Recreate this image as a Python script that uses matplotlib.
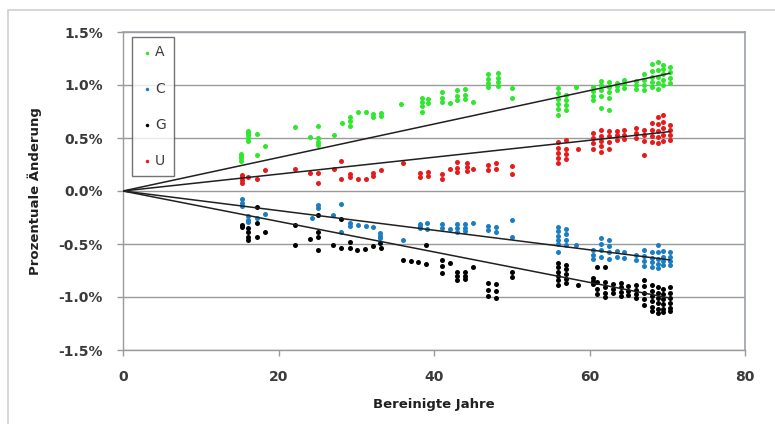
import matplotlib
matplotlib.use("Agg")
import matplotlib.pyplot as plt
import numpy as np
from matplotlib.patches import Rectangle

# ---------------- data (percent change vs adjusted years) ----------------
a_x = [15.2]*4 + [16.1]*5 + [17.2, 17.2, 18.3, 22.1, 24.1] + [25.1]*4 + [27.1, 28.2] + [29.2]*3 + \
      [30.2, 31.2, 32.2, 32.2, 33.2, 33.2, 35.8] + [38.5]*4 + [39.2]*2 + [41]*3 + [42] + [43]*3 + [44]*3 + [45] + \
      [47]*4 + [48.2]*4 + [50]*2 + [56]*6 + [57]*4 + [58.2] + [60.5]*4 + [61.5]*5 + [62.5]*5 + [63.5]*3 + \
      [64.5]*3 + [66]*3 + [67]*4 + [68]*5 + [68.8]*5 + [69.5]*5 + [70.3]*4
a_y = [0.28, 0.31, 0.33, 0.35, 0.47, 0.50, 0.53, 0.55, 0.57, 0.54, 0.34, 0.42, 0.60, 0.51,
       0.61, 0.50, 0.46, 0.43, 0.53, 0.64, 0.61, 0.66, 0.70, 0.75, 0.75, 0.70, 0.73, 0.71, 0.74, 0.82,
       0.80, 0.84, 0.88, 0.75, 0.83, 0.87, 0.88, 0.93, 0.84, 0.83, 0.86, 0.90, 0.95, 0.87, 0.91, 0.96, 0.84,
       0.98, 1.02, 1.06, 1.10, 0.99, 1.03, 1.07, 1.11, 0.97, 0.88,
       0.72, 0.77, 0.82, 0.87, 0.92, 0.97, 0.76, 0.81, 0.86, 0.91, 0.98,
       0.86, 0.90, 0.94, 0.98, 0.90, 0.95, 1.00, 1.04, 0.78, 0.88, 0.93, 0.98, 1.03, 0.76,
       0.95, 0.99, 1.02, 0.97, 1.01, 1.05, 0.96, 1.00, 1.04, 0.95, 1.00, 1.05, 1.10,
       0.98, 1.03, 1.08, 1.13, 1.20, 0.96, 1.02, 1.08, 1.14, 1.22, 1.00, 1.05, 1.10, 1.15, 1.19,
       1.02, 1.07, 1.12, 1.17]

u_x = [15.3]*4 + [16.1, 17.2, 18.3, 22.1, 24.1, 25.1, 25.1, 27.1, 28.1, 28.1] + [29.2]*2 + \
      [30.2, 31.2, 32.2, 32.2, 33.2, 36.0] + [38.2]*2 + [39.2]*2 + [41]*2 + [42] + [43]*3 + [44.2]*3 + [45] + \
      [47]*2 + [48]*2 + [50]*2 + [56]*5 + [57]*4 + [58.5] + [60.5]*4 + [61.5]*5 + [62.5]*4 + [63.5]*3 + \
      [64.5]*3 + [66]*3 + [67]*4 + [68]*4 + [68.8]*5 + [69.5]*5 + [70.3]*4
u_y = [0.08, 0.10, 0.13, 0.15, 0.13, 0.11, 0.20, 0.21, 0.17, 0.17, 0.08, 0.21, 0.28, 0.11,
       0.13, 0.16, 0.11, 0.11, 0.14, 0.17, 0.20, 0.26, 0.13, 0.17, 0.14, 0.18, 0.11, 0.16, 0.21,
       0.18, 0.22, 0.27, 0.19, 0.23, 0.26, 0.21, 0.20, 0.25, 0.21, 0.26, 0.24, 0.16,
       0.26, 0.31, 0.36, 0.41, 0.46, 0.30, 0.35, 0.40, 0.48, 0.40,
       0.40, 0.45, 0.50, 0.55, 0.37, 0.42, 0.47, 0.52, 0.58, 0.40, 0.46, 0.52, 0.57,
       0.48, 0.53, 0.57, 0.49, 0.53, 0.58, 0.50, 0.55, 0.59, 0.34, 0.47, 0.53, 0.58,
       0.46, 0.52, 0.58, 0.64, 0.45, 0.51, 0.57, 0.63, 0.70, 0.47, 0.53, 0.59, 0.65, 0.72,
       0.48, 0.53, 0.58, 0.62]

c_x = [15.3]*3 + [16.1]*3 + [17.2, 18.3, 24.3, 25.1, 25.1, 27.0, 28.0, 28.0] + [29.2]*2 + \
      [30.2, 31.3, 32.1] + [33.0]*3 + [36.0] + [38.2]*3 + [39.1]*2 + [41]*2 + [42] + [43]*3 + [44]*3 + [45] + \
      [47]*2 + [48]*2 + [50]*2 + [56]*6 + [57]*4 + [58.3] + [60.5]*3 + [61.5]*4 + [62.5]*4 + [63.5]*2 + \
      [64.5]*2 + [66]*2 + [67]*4 + [68]*4 + [68.8]*5 + [69.5]*4 + [70.3]*4
c_y = [-0.08, -0.11, -0.14, -0.24, -0.27, -0.29, -0.25, -0.22, -0.25, -0.13, -0.16, -0.23, -0.12, -0.39,
       -0.30, -0.33, -0.32, -0.33, -0.34, -0.40, -0.42, -0.44, -0.46, -0.31, -0.33, -0.35, -0.30, -0.36,
       -0.31, -0.35, -0.36, -0.31, -0.35, -0.39, -0.31, -0.35, -0.38, -0.30,
       -0.33, -0.37, -0.34, -0.39, -0.27, -0.43,
       -0.34, -0.38, -0.42, -0.46, -0.50, -0.58, -0.36, -0.41, -0.46, -0.51, -0.51,
       -0.56, -0.60, -0.64, -0.44, -0.50, -0.56, -0.62, -0.46, -0.52, -0.58, -0.64,
       -0.57, -0.62, -0.58, -0.63, -0.60, -0.65, -0.56, -0.61, -0.66, -0.71,
       -0.58, -0.63, -0.67, -0.72, -0.51, -0.58, -0.64, -0.69, -0.73, -0.57, -0.62, -0.66, -0.70,
       -0.58, -0.62, -0.66, -0.70]

g_x = [15.3]*2 + [16.1]*4 + [17.2]*3 + [18.3, 22.1, 22.1, 24.0] + [25.1]*4 + [27.0, 28.0, 28.0] + \
      [29.2]*2 + [30.1, 31.1, 32.2, 33.2, 33.0, 36.0, 37.0, 38.0] + [39.0]*2 + [41]*3 + [42] + [43]*3 + [44]*3 + \
      [45] + [47]*3 + [48]*3 + [50]*2 + [56]*6 + [57]*5 + [58.5] + [60.5]*3 + [61]*4 + [62]*5 + [63]*3 + \
      [64]*4 + [65]*3 + [66]*4 + [67]*5 + [68]*6 + [68.8]*6 + [69.5]*6 + [70.3]*6
g_y = [-0.32, -0.34, -0.35, -0.39, -0.43, -0.46, -0.15, -0.30, -0.43, -0.39, -0.32, -0.51, -0.45,
       -0.23, -0.39, -0.43, -0.56, -0.51, -0.26, -0.54, -0.48, -0.54, -0.56, -0.55, -0.52, -0.54, -0.49,
       -0.65, -0.66, -0.67, -0.51, -0.69, -0.65, -0.71, -0.77, -0.68, -0.76, -0.80, -0.84, -0.76, -0.80, -0.83,
       -0.72, -0.87, -0.93, -0.99, -0.88, -0.94, -1.01, -0.76, -0.81,
       -0.68, -0.72, -0.76, -0.80, -0.84, -0.89, -0.70, -0.74, -0.78, -0.83, -0.87, -0.89,
       -0.82, -0.85, -0.88, -0.72, -0.86, -0.92, -0.97, -0.72, -0.86, -0.91, -0.96, -1.00, -0.88, -0.92, -0.96,
       -0.87, -0.91, -0.95, -0.99, -0.90, -0.94, -0.98, -0.89, -0.93, -0.97, -1.01, -0.84, -0.90, -0.96, -1.02, -1.08,
       -0.89, -0.94, -0.99, -1.04, -1.09, -1.13, -0.91, -0.96, -1.01, -1.06, -1.11, -1.15,
       -0.92, -0.97, -1.02, -1.07, -1.11, -1.14, -0.91, -0.96, -1.01, -1.06, -1.10, -1.13]

# trend lines through the origin: value read at the last x (70.3 years)
trend_end_x = 70.3
trend_end_y = [1.11, -0.65, -1.01, 0.56]   # A, C, G, U

series_names = ["A", "C", "G", "U"]
series_colors = ["#2de82d", "#1b7ec4", "#000000", "#e81a1a"]
x_ticks = [0, 20, 40, 60, 80]
y_ticks = [-1.5, -1.0, -0.5, 0.0, 0.5, 1.0, 1.5]
x_label = "Bereinigte Jahre"
y_label = "Prozentuale Änderung"

# ---------------- figure ----------------
W, H = 775, 424
fig = plt.figure(figsize=(W/100, H/100), dpi=100)
fig.patch.set_facecolor("white")
fig.add_artist(Rectangle((8/W, -0.1), 1.2, (H-10)/H + 0.1, transform=fig.transFigure,
                         fill=False, edgecolor="#d0d0d0", linewidth=1.2))

ax = fig.add_axes([123/W, 1-350/H, (745-123)/W, (350-32)/H])
ax.set_xlim(0, 80)
ax.set_ylim(-1.5, 1.5)

font = ["DejaVu Sans"]
data = [(a_x, a_y), (c_x, c_y), (g_x, g_y), (u_x, u_y)]
for (xs, ys), name, col in zip(data, series_names, series_colors):
    ax.scatter(xs, ys, s=13, color=col, label=name, zorder=3, linewidths=0)
for yend in trend_end_y:
    ax.plot([0, trend_end_x], [0, yend], color="#202020", lw=1.1, zorder=4)

ax.set_yticks(y_ticks)
ax.set_yticklabels([f"{v:.1f}%" for v in y_ticks])
ax.set_xticks(x_ticks)
ax.grid(axis="y", color="#9a9a9a", lw=1.0)
ax.set_axisbelow(True)
for s in ["top", "right"]:
    ax.spines[s].set_color("#9aa0aa")
    ax.spines[s].set_linewidth(1.2)
for s in ["left", "bottom"]:
    ax.spines[s].set_color("#9a9a9a")
    ax.spines[s].set_linewidth(1.0)
ax.tick_params(axis="both", direction="out", length=4.5, color="#9a9a9a", width=1.0)
ax.tick_params(axis="y", pad=10)
ax.tick_params(axis="x", pad=10)
for lab in ax.get_xticklabels() + ax.get_yticklabels():
    lab.set_fontfamily(font)
    lab.set_fontweight("bold")
    lab.set_fontsize(10)
    lab.set_color("#3a3a3a")

ax.set_xlabel(x_label, fontfamily=font, fontweight="bold", fontsize=9.5, color="#202020", labelpad=10)
ax.set_ylabel(y_label, fontfamily=font, fontweight="bold", fontsize=9.5, color="#202020", labelpad=12)

leg = ax.legend(loc="upper left", bbox_to_anchor=(9/622, 1-5/318), borderaxespad=0,
                frameon=True, fancybox=False,
                labelspacing=1.6, handletextpad=0.05, borderpad=0.6, handlelength=1.0,
                prop={"family": font, "size": 10}, markerscale=0.7)
leg.get_frame().set_edgecolor("#505050")
leg.get_frame().set_linewidth(1.0)
for t in leg.get_texts():
    t.set_color("#3a3a3a")

fig.savefig("out.png", dpi=100, facecolor="white")
